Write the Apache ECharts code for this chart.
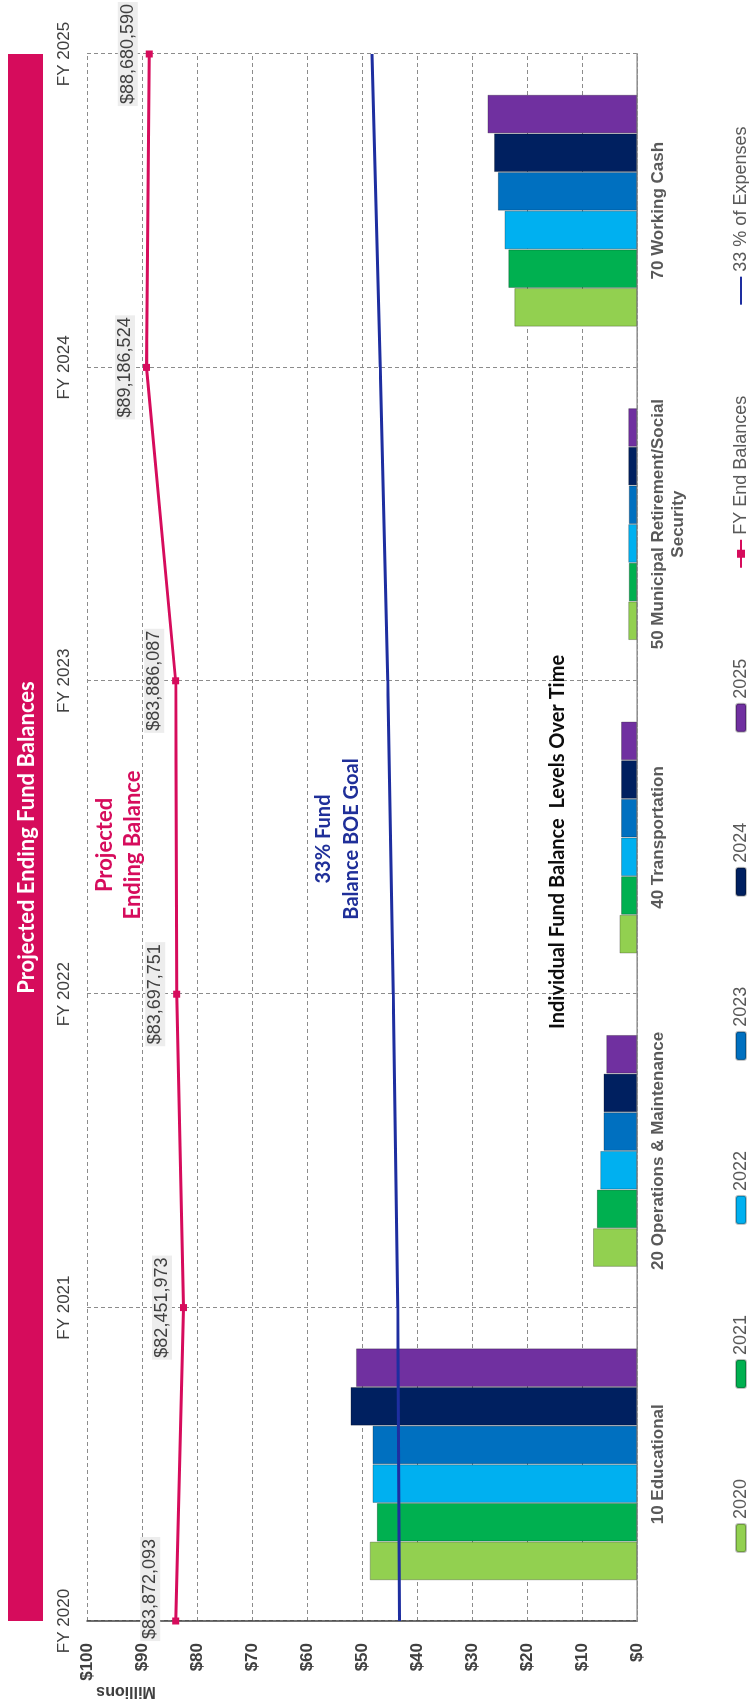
<!DOCTYPE html>
<html><head><meta charset="utf-8">
<script src="https://cdn.jsdelivr.net/npm/echarts@6/dist/echarts.min.js"></script>
<style>
html,body{margin:0;padding:0;width:749px;height:1707px;overflow:hidden;background:#fff;}
#chart{position:absolute;left:0;top:0;width:1707px;height:749px;transform-origin:0 0;transform:translate(0px,1707px) rotate(-90deg);}
</style></head><body><div id="chart"></div>
<script>
// ---- data ----
const fiscalYears = ['FY 2020','FY 2021','FY 2022','FY 2023','FY 2024','FY 2025'];
const fyEndBalances = [83872093, 82451973, 83697751, 83886087, 89186524, 88680590];
const expenseGoal = [43.2, 43.5, 44.3, 45.3, 46.7, 48.2]; // $ millions, 33 % of expenses
const funds = ['10 Educational','20 Operations & Maintenance','40 Transportation','50 Municipal Retirement/Social\nSecurity','70 Working Cash'];
const barYears = ['2020','2021','2022','2023','2024','2025'];
const fund2020 = [48.6, 8.0, 3.2, 1.6, 22.3];
const fund2021 = [47.3, 7.3, 2.9, 1.5, 23.4];
const fund2022 = [48.1, 6.7, 2.9, 1.6, 24.1];
const fund2023 = [48.1, 6.1, 2.9, 1.5, 25.3];
const fund2024 = [52.1, 6.1, 2.9, 1.6, 26.0];
const fund2025 = [51.1, 5.6, 2.9, 1.6, 27.2];
const yTicks = [0,10,20,30,40,50,60,70,80,90,100];

// ---- styles ----
const barColors = ['#92D050','#00B050','#00B0F0','#0070C0','#002060','#7030A0'];
const pink = '#D60C5C';
const navy = '#1E2EA0';
const AR = '"Liberation Sans", Arial, sans-serif';
const LT = 'Lato, "Open Sans", sans-serif';
const fundSeries = [fund2020, fund2021, fund2022, fund2023, fund2024, fund2025];

const chart = echarts.init(document.getElementById('chart'), null, {renderer:'canvas'});
const gridL = 86, gridR = 54, gridT = 87, gridB = 112;
const plotW = 1707 - gridL - gridR;
const cx = gridL + plotW / 2;

const series = barYears.map((y, i) => ({
  name: y, type: 'bar', xAxisIndex: 1, yAxisIndex: 0,
  data: fundSeries[i],
  barGap: '0%', barCategoryGap: '26%',
  itemStyle: { color: barColors[i], borderColor: 'rgba(0,0,0,0.25)', borderWidth: 1 },
  z: 2
}));
series.push({
  name: 'FY End Balances', type: 'line', xAxisIndex: 0, yAxisIndex: 0,
  data: fyEndBalances.map((v, i) => i === 0
    ? { value: v / 1e6, label: { offset: [32, -4] } }
    : v / 1e6),
  lineStyle: { color: pink, width: 3 }, itemStyle: { color: pink },
  symbol: 'rect', symbolSize: 7, z: 5,
  label: {
    show: true, position: 'top', distance: 8,
    formatter: p => '$' + fyEndBalances[p.dataIndex].toLocaleString('en-US'),
    fontFamily: AR, fontSize: 18, color: '#404040',
    backgroundColor: '#EDEDED', padding: [1, 2]
  }
});
series.push({
  name: '33 % of Expenses', type: 'line', xAxisIndex: 0, yAxisIndex: 0,
  data: expenseGoal, symbol: 'none',
  lineStyle: { color: navy, width: 3 }, itemStyle: { color: navy }, z: 4
});

const option = {
  animation: false,
  backgroundColor: '#fff',
  grid: { left: gridL, right: gridR, top: gridT, bottom: gridB, containLabel: false },
  legend: {
    left: 154, top: 732, padding: 0, itemWidth: 28, itemHeight: 10, itemGap: 90,
    data: barYears.concat(['FY End Balances', { name: '33 % of Expenses', itemStyle: { opacity: 0 } }]),
    textStyle: { fontFamily: AR, fontSize: 18, color: '#595959' }
  },
  xAxis: [
    { type: 'category', data: fiscalYears, position: 'top', boundaryGap: false,
      axisLine: { show: true, lineStyle: { color: '#404040', type: [4, 2], width: 1 } },
      axisTick: { show: false },
      axisLabel: { margin: 14, fontFamily: AR, fontSize: 17, color: '#404040' },
      splitLine: { show: true, lineStyle: { color: '#8c8c8c', type: [4, 3], width: 1 } } },
    { type: 'category', data: funds, position: 'bottom', boundaryGap: true,
      axisLine: { show: true, lineStyle: { color: '#A6A6A6', width: 1.5 } },
      axisTick: { show: false },
      axisLabel: { interval: 0, margin: 11, fontFamily: AR, fontSize: 17, fontWeight: 'bold', color: '#595959', lineHeight: 20 },
      splitLine: { show: false } }
  ],
  yAxis: [{
    type: 'value', min: yTicks[0], max: yTicks[yTicks.length - 1], interval: 10,
    axisLine: { show: true, lineStyle: { color: '#404040', width: 1.5 } },
    axisTick: { show: false },
    axisLabel: { margin: 22, fontFamily: AR, fontSize: 17, fontWeight: 'bold', color: '#404040', formatter: v => '$' + v },
    splitLine: { show: true, lineStyle: { color: '#8c8c8c', type: [4, 3], width: 1 } }
  }],
  series: series,
  graphic: [
    { type: 'rect', shape: { x: gridL, y: 8, width: plotW, height: 35 }, style: { fill: pink }, z: 10 },
    { type: 'text', x: cx, y: 27, z: 11,
      style: { text: 'Projected Ending Fund Balances', fill: '#fff', font: 'bold 22px ' + LT, textAlign: 'center', textVerticalAlign: 'middle' } },
    { type: 'text', x: 16, y: 126, rotation: Math.PI / 2, z: 11,
      style: { text: 'Millions', fill: '#404040', font: 'bold 16px ' + AR, textAlign: 'center', textVerticalAlign: 'middle' } },
    { type: 'text', x: 862, y: 119, z: 11,
      style: { text: 'Projected\nEnding Balance', fill: pink, font: 'bold 22px ' + LT, lineHeight: 28, textAlign: 'center', textVerticalAlign: 'middle' } },
    { type: 'text', x: 868, y: 338, z: 11,
      style: { text: '33% Fund\nBalance BOE Goal', fill: '#1F2F99', font: 'bold 20px ' + LT, lineHeight: 28, textAlign: 'center', textVerticalAlign: 'middle' } },
    { type: 'text', x: 865, y: 558, z: 11,
      style: { text: 'Individual Fund Balance  Levels Over Time', fill: '#0d0d0d', font: 'bold 20px ' + LT, textAlign: 'center', textVerticalAlign: 'middle' } }
  ]
};
chart.setOption(option);
</script></body></html>
